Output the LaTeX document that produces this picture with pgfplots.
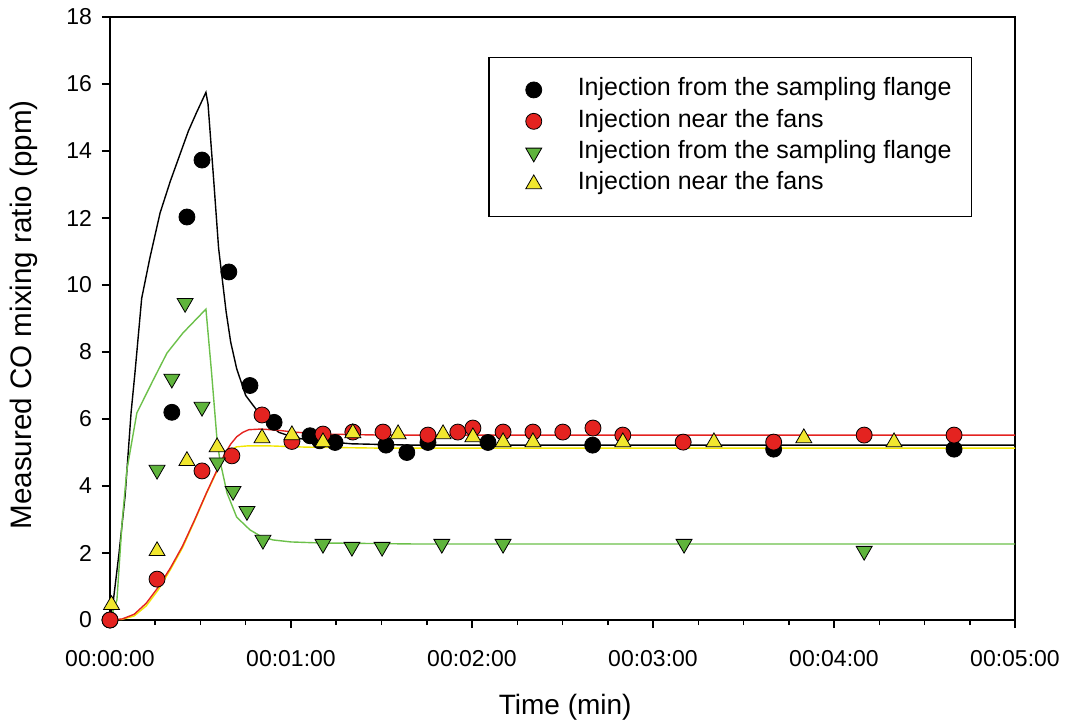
\documentclass[border=0pt]{standalone}
\usepackage{fontspec}
\setmainfont{Liberation Sans}
\usepackage{pgfplots}
\pgfplotsset{compat=1.18}
\definecolor{ptred}{HTML}{E42320}
\definecolor{ptgreen}{HTML}{5FB43C}
\definecolor{ptyellow}{HTML}{F1E72E}
\definecolor{lngreen}{HTML}{6CC04A}
\definecolor{lnyellow}{HTML}{F2E600}

\begin{document}
\begin{tikzpicture}
% page frame: 1 px of the reference = 0.5pt
\path[use as bounding box] (-55pt,-51.5pt) rectangle (480.5pt,310pt);
\begin{axis}[
  scale only axis,
  width=452.5pt, height=301.5pt,
  xmin=0, xmax=300, ymin=0, ymax=18,
  xtick={0,60,120,180,240,300},
  xticklabels={00:00:00,00:01:00,00:02:00,00:03:00,00:04:00,00:05:00},
  minor x tick num=3,
  ytick={0,2,...,18},
  tick align=outside,
  xtick pos=bottom, ytick pos=left,
  major tick length=4pt, minor tick length=2.5pt,
  axis line style={line width=0.75pt},
  every tick/.style={black, line width=0.75pt},
  tick label style={font=\fontsize{11.5}{13}\selectfont},
  xticklabel style={yshift=-7.5pt},
  yticklabel style={xshift=-1.5pt},
  /pgf/number format/assume math mode=true,
  xlabel={Time (min)},
  ylabel={Measured CO mixing ratio (ppm)},
  xlabel style={font=\fontsize{14}{16}\selectfont, at={(axis description cs:0.503,-0.144)}, anchor=center},
  ylabel style={font=\fontsize{14.8}{17}\selectfont, at={(axis description cs:-0.095,0.506)}, anchor=center},
  clip=false,
  every axis plot/.append style={line width=0.7pt},
  legend image code/.code={
    \path[draw=none] (-12.5pt,0pt) -- (22pt,0pt);
    \draw[#1] plot coordinates {(0pt,0pt)};},
  legend cell align=left,
  legend style={
    at={(axis description cs:0.4177,0.9337)}, anchor=north west,
    draw=black, line width=0.75pt,
    font=\fontsize{12.5}{15}\selectfont,
    inner xsep=10pt, inner ysep=10pt,
    row sep=3.5pt,
    nodes={inner sep=0pt, text height=9pt, text depth=3.2pt},
  },
]
% fitted curves
\addplot[black, forget plot] coordinates {
  (0,0) (1,0.5) (3,2.0) (5,3.7) (7,6.2) (8.3,7.4) (10.5,9.6) (13.2,10.8)
  (16.6,12.15) (20,13.1) (23.2,13.9) (26,14.6) (28.7,15.15) (31.8,15.75)
  (32.5,15.4) (34.4,13.1) (36,11.1) (38.5,9.2) (40,8.3) (42,7.5) (45,6.7)
  (48.6,6.27) (52,5.9) (56,5.6) (61,5.45) (66,5.37) (80,5.26) (100,5.22) (300,5.22)
};
\addplot[lngreen, forget plot] coordinates {
  (0,0) (2.3,0.6) (4,2.9) (5.6,4.48) (8.9,6.18) (14.3,7.16) (18.9,7.97)
  (24.2,8.57) (31.8,9.28) (33.6,7.46) (35.4,5.47) (36.4,4.78) (38.8,3.79)
  (42,3.07) (46.4,2.69) (50,2.5) (54,2.39) (60,2.33) (69.6,2.30) (100,2.27) (300,2.27)
};
\addplot[lnyellow, forget plot] coordinates {
  (0,0) (4,0.02) (8,0.12) (12,0.42) (16,0.9) (20,1.5) (24,2.15) (28,2.95)
  (32,3.78) (35.5,4.45) (38,4.88) (40,5.08) (42,5.17) (46,5.2) (52,5.2)
  (65,5.16) (90,5.13) (300,5.13)
};
\addplot[ptred, forget plot] coordinates {
  (0,0) (4,0.03) (8,0.17) (12,0.5) (16,0.98) (20,1.55) (24,2.2) (28,2.98)
  (32,3.8) (35.5,4.48) (38,4.95) (40,5.25) (42,5.47) (44,5.6) (46,5.68)
  (50,5.70) (55,5.67) (61,5.61) (70,5.55) (90,5.52) (300,5.52)
};
% measurements
\addplot[only marks, mark=*, mark size=4pt, mark options={draw=black, fill=black, line width=0.4pt}] coordinates {
  (0,0) (20.5,6.2) (25.5,12.03) (30.5,13.73) (39.4,10.39) (46.4,7.0) (54.4,5.9)
  (66.3,5.5) (69.5,5.35) (74.6,5.3) (91.5,5.22) (98.4,5.0) (105.4,5.3)
  (125.3,5.3) (160,5.22) (220,5.1) (279.8,5.1)
};
\addlegendentry{Injection from the sampling flange}
\addplot[only marks, mark=*, mark size=4pt, mark options={draw=black, fill=ptred, line width=0.4pt}] coordinates {
  (0,0) (15.6,1.22) (30.5,4.45) (40.4,4.9) (50.4,6.12) (60.3,5.33) (70.6,5.55)
  (80.5,5.61) (90.5,5.61) (105.4,5.52) (115.3,5.61) (120.3,5.73) (130.3,5.61)
  (140.2,5.61) (150.1,5.61) (160.1,5.73) (170,5.52) (190,5.31) (220,5.31)
  (250,5.52) (279.8,5.52)
};
\addlegendentry{Injection near the fans}
\addplot[only marks, mark=triangle*, mark size=4.6pt, mark options={rotate=180, draw=black, fill=ptgreen, line width=0.4pt}] coordinates {
  (15.6,4.48) (20.5,7.2) (24.9,9.46) (30.5,6.36) (35.6,4.7) (40.8,3.85)
  (45.4,3.25) (50.7,2.39) (70.6,2.27) (80.2,2.18) (90.2,2.18) (110,2.27)
  (130.3,2.27) (190.3,2.27) (250,2.06)
};
\addlegendentry{Injection from the sampling flange}
\addplot[only marks, mark=triangle*, mark size=4.6pt, mark options={draw=black, fill=ptyellow, line width=0.4pt}] coordinates {
  (0.5,0.45) (15.6,2.06) (25.5,4.75) (35.5,5.16) (50.4,5.43) (60.3,5.52)
  (70.6,5.31) (80.5,5.58) (95.5,5.55) (110.4,5.55) (120.3,5.46) (130.3,5.31)
  (140.2,5.31) (170,5.31) (200.2,5.31) (230,5.43) (259.9,5.31)
};
\addlegendentry{Injection near the fans}
\end{axis}
\end{tikzpicture}
\end{document}
